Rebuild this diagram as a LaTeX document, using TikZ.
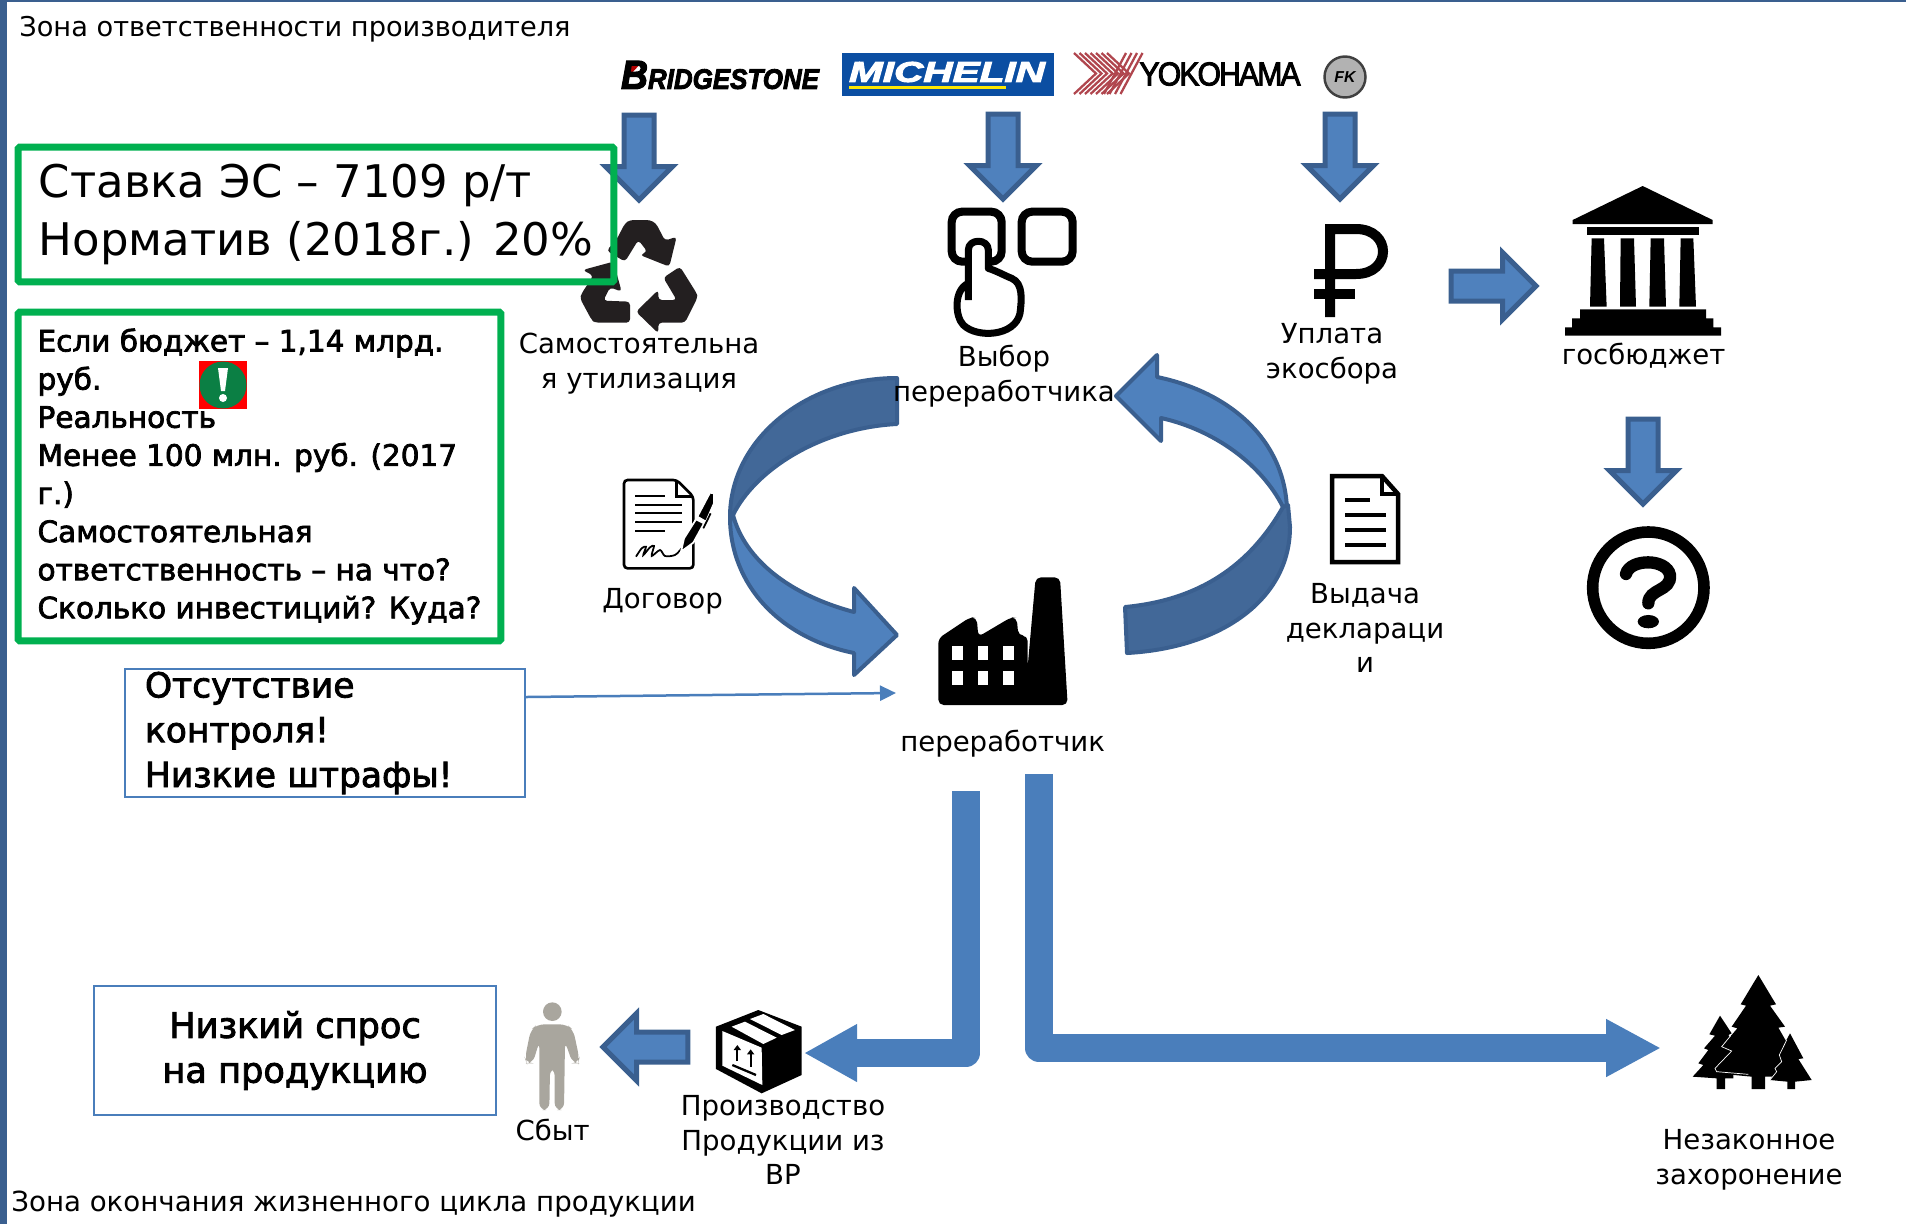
\documentclass[tikz,border=0pt]{standalone}
\usepackage{fontspec}
\usepackage{graphicx}
\setmainfont{DejaVu Sans}
\newfontfamily\logofont{Liberation Sans}
\newfontfamily\logoheavy[FakeBold=3]{Liberation Sans}
\newfontfamily\heavyfont[FakeBold=2.5]{DejaVu Sans}
\usetikzlibrary{arrows.meta,shapes.arrows,calc}

\definecolor{arrowblue}{HTML}{4F81BD}
\definecolor{arrowedge}{HTML}{3A5F8F}
\definecolor{benddark}{HTML}{426898}
\definecolor{flowblue}{HTML}{4A7EBB}
\definecolor{greenline}{HTML}{00B050}
\definecolor{recycleblack}{HTML}{231F20}
\definecolor{personiconcol}{HTML}{A9A69E}
\definecolor{michelinblue}{HTML}{0B4EA2}
\definecolor{yokored}{HTML}{B0464E}
\definecolor{warngreen}{HTML}{0B7F44}

\tikzset{
    caption/.style={align=center, inner sep=0pt, font=\fontsize{15.7}{19.84}\selectfont},
    blockarrow/.style={single arrow, draw=arrowedge, fill=arrowblue, line width=0.1cm, line join=miter,
        minimum height=1.7cm, single arrow head extend=0.37cm, inner sep=0.25cm, outer sep=0pt, anchor=tip},
    greenbox/.style={draw=greenline, line width=0.14cm, rounded corners=1pt, inner sep=0pt, align=left},
    thinbox/.style={draw=flowblue, line width=0.04cm, inner sep=0pt},
    flowline/.style={draw=flowblue, line width=0.56cm, line join=round},
    bendlight/.style={draw=arrowedge, fill=arrowblue, line width=0.08cm, line join=round},
    benddarker/.style={draw=arrowedge, fill=benddark, line width=0.08cm, line join=round},
    zoomed/.style={shift={#1}, x=0.006667cm, y=-0.006667cm},
}

\begin{document}
\begin{tikzpicture}[x=0.02cm, y=-0.02cm]
    \useasboundingbox (0,0) rectangle (1906,1224);
    \fill [arrowedge] (0,0) rectangle (1906,2);
    \fill [arrowedge] (0,0) rectangle (7,1224);

    % zone titles
    \node [anchor=west, inner sep=0pt, font=\fontsize{15.5}{19}\selectfont] (zonetop) at (19,29) { Зона ответственности производителя };
    \node [anchor=west, inner sep=0pt, font=\fontsize{15.74}{19}\selectfont] (zonebottom) at (11,1204) { Зона окончания жизненного цикла продукции };

    % logos
    \fill [red!70!black] (627,61) -- (643,61) -- (630,75) -- cycle;
    \node [inner sep=0pt] (bridgestone) at (720,75) { \resizebox{3.96cm}{0.56cm}{\logoheavy\bfseries\itshape {\Large B}RIDGESTONE} };
    \fill [michelinblue] (842,53) rectangle (1054,96);
    \node [inner sep=0pt, text=white] (michelin) at (947,72) { \resizebox{3.92cm}{0.4cm}{\logoheavy\bfseries\itshape MICHELIN} };
    \fill [yellow!90!orange] (849,86) rectangle (1006,89);
    \foreach \i in {0,...,6} {
        \draw [yokored, line width=1.3pt] ({1074+\i*5.5},53) -- ({1096+\i*5.5},73.5) -- ({1074+\i*5.5},94);
    }
    \foreach \i in {0,...,3} {
        \draw [yokored, line width=1.3pt] ({1126+\i*5.5},53) -- ({1104+\i*5.5},94);
    }
    \node [inner sep=0pt] (yokohama) at (1220,74) { \resizebox{3.22cm}{0.46cm}{\logoheavy\addfontfeature{LetterSpace=-6}YOKOHAMA} };
    \node [circle, draw=black!75, line width=1.4pt, fill=black!30, minimum size=0.82cm, inner sep=0pt, font=\logofont\bfseries\itshape\small] (fk) at (1345,77) { FK };

    % arrows from the producers
    \node [blockarrow, shape border rotate=270] (downa) at (639,200) {};
    \node [blockarrow, shape border rotate=270] (downb) at (1003,199) {};
    \node [blockarrow, shape border rotate=270] (downc) at (1340,199) {};
    \node [blockarrow] (togov) at (1536,286) {};
    \node [blockarrow, shape border rotate=270] (fromgov) at (1643,504) {};
    \node [blockarrow, shape border rotate=180] (tosale) at (603,1047) {};

    % recycling sign
    \begin{scope}[zoomed={(570,210)}]
        \fill [recycleblack, rounded corners=2pt] (110,122) -- (140,88) -- (165,40) -- (180,30) -- (240,30) -- (258,40) -- (285,92) -- (320,80) -- (298,170) -- (210,135) -- (232,125) -- (205,90) -- (165,155) -- cycle;
        \fill [recycleblack, rounded corners=2pt] (38,180) -- (130,155) -- (155,245) -- (120,232) -- (100,272) -- (180,275) -- (180,338) -- (75,338) -- (65,330) -- (30,265) -- (35,250) -- (70,197) -- cycle;
        \fill [recycleblack, rounded corners=2pt] (330,170) -- (280,203) -- (320,270) -- (265,270) -- (265,240) -- (198,305) -- (265,370) -- (265,338) -- (345,338) -- (383,262) -- (380,250) -- cycle;
    \end{scope}

    % choosing hand
    \begin{scope}[zoomed={(940,200)}]
        \draw [line width=4.6pt, rounded corners=6pt] (35,35) rectangle (185,185);
        \draw [line width=4.6pt, rounded corners=6pt] (245,35) rectangle (398,185);
        \draw [line width=4pt, fill=white, line join=round] (85,300) -- (85,150) .. controls (85,115) and (145,115) .. (145,150) -- (145,205) .. controls (175,215) and (190,225) .. (215,235) .. controls (250,250) and (245,300) .. (240,340) .. controls (225,410) and (110,415) .. (70,375) .. controls (45,350) and (40,270) .. (85,250);
    \end{scope}

    % ruble sign
    \draw [line width=0.2cm] (1330,317) -- (1330,229) -- (1356,229) .. controls (1392,229) and (1392,274) .. (1356,274) -- (1314,274);
    \draw [line width=0.2cm] (1314,294) -- (1355,294);

    % building
    \begin{scope}[zoomed={(1400,170)}]
        \fill (518,150) -- (728,48) -- (938,150) -- (938,162) -- (518,162) -- cycle;
        \fill (560,170) rectangle (898,196);
        \fill (575,205) -- (612,205) -- (620,410) -- (570,410) -- cycle;
        \fill (662,205) -- (702,205) -- (708,410) -- (660,410) -- cycle;
        \fill (752,205) -- (792,205) -- (798,410) -- (748,410) -- cycle;
        \fill (842,205) -- (880,205) -- (888,410) -- (838,410) -- cycle;
        \fill (540,418) -- (918,418) -- (918,445) -- (940,445) -- (940,472) -- (963,472) -- (963,497) -- (495,497) -- (495,472) -- (516,472) -- (516,445) -- (540,445) -- cycle;
        \draw [line width=6.6pt] (745,1253) circle (167);
        \draw [line width=7pt, line cap=round] (678,1212) .. controls (690,1165) and (800,1165) .. (810,1215) .. controls (815,1265) and (745,1255) .. (745,1300);
        \fill (745,1355) ellipse (32 and 20);
    \end{scope}

    % curved arrows
    \draw [bendlight] (730,517) .. controls (730,585) and (780,638) .. (854,653) -- (854,675) -- (897,635) -- (854,588) -- (854,612) .. controls (790,595) and (745,560) .. (733,515) -- cycle;
    \draw [benddarker] (897,378) .. controls (805,378) and (730,440) .. (730,517) -- (733,515) .. controls (755,470) and (820,428) .. (897,424) -- cycle;
    \draw [bendlight] (1157,377) .. controls (1230,392) and (1285,440) .. (1287,510) -- (1283,507) .. controls (1262,465) and (1215,430) .. (1161,418) -- (1161,441) -- (1116,396) -- (1157,355) -- cycle;
    \draw [benddarker] (1283,507) .. controls (1250,565) and (1200,600) .. (1125,607) -- (1127,653) .. controls (1220,648) and (1290,600) .. (1290,527) -- (1288,505) -- cycle;

    % contract
    \begin{scope}[zoomed={(610,470)}]
        \draw [line width=1.5pt, rounded corners=2pt] (42,30) -- (200,30) -- (250,80) -- (250,295) -- (42,295) -- cycle;
        \draw [line width=1.5pt] (200,30) -- (200,80) -- (250,80);
        \foreach \ly/\lx in {78/165, 104/215, 130/215, 156/215, 182/165} {
            \draw [line width=1.3pt] (75,\ly) -- (\lx,\ly);
        }
        \draw [line width=1pt] plot [smooth] coordinates {(78,260) (95,235) (108,230) (100,255) (120,232) (132,228) (125,258) (150,240) (165,258) (195,255) (215,235)};
        \fill [black, draw=white, line width=1pt] (213,245) -- (222,205) -- (258,148) -- (282,160) -- (250,218) -- cycle;
        \fill [black, draw=white, line width=1pt] (262,140) -- (288,155) -- (312,100) -- (312,70) -- (300,68) -- cycle;
        \draw [line width=1pt] (280,175) -- (302,130);
    \end{scope}

    % factory
    \begin{scope}[zoomed={(925,570)}]
        \fill [rounded corners=3pt] (40,205) -- (135,142) -- (155,142) -- (160,200) -- (258,142) -- (275,142) -- (280,197) -- (308,197) -- (308,290) -- (332,22) -- (405,22) -- (428,405) -- (40,405) -- cycle;
        \foreach \wx in {82,158,234} {
            \foreach \wy in {228,302} {
                \fill [white] (\wx,\wy) rectangle ++(32,42);
            }
        }
    \end{scope}

    % declaration sheet
    \draw [line width=0.09cm, line join=miter] (1332,476) -- (1382,476) -- (1398,494) -- (1398,562) -- (1332,562) -- cycle;
    \draw [line width=0.07cm] (1382,476) -- (1382,494) -- (1398,494);
    \foreach \ly/\lx in {500/1370, 515/1386, 530/1386, 545/1386} {
        \draw [line width=0.08cm] (1345,\ly) -- (\lx,\ly);
    }

    % box and person
    \begin{scope}[zoomed={(510,995)}]
        \fill [line join=round] (618,95) -- (745,45) -- (875,95) -- (875,240) -- (755,295) -- (618,222) -- cycle;
        \fill [white] (637,108) -- (755,158) -- (757,270) -- (637,212) -- cycle;
        \fill [white] (665,95) -- (705,80) -- (800,128) -- (760,147) -- cycle;
        \fill [white] (720,72) -- (760,57) -- (855,105) -- (815,120) -- cycle;
        \draw [line width=1.3pt, -{Triangle[length=0.1cm, width=0.14cm]}] (682,198) -- (682,150);
        \draw [line width=1.3pt, -{Triangle[length=0.1cm, width=0.14cm]}] (722,215) -- (722,163);
        \draw [line width=1.3pt] (667,210) -- (738,240);
        \fill [personiconcol] (127,50) circle (28);
        \fill [personiconcol, rounded corners=4pt] (82,88) -- (62,105) -- (45,190) -- (50,205) -- (68,205) -- (88,140) -- (88,345) -- (118,345) -- (120,220) -- (134,220) -- (134,345) -- (162,345) -- (165,140) -- (188,205) -- (205,205) -- (208,190) -- (190,105) -- (170,88) -- cycle;
    \end{scope}

    % forest
    \begin{scope}[zoomed={(1680,965)}]
        \fill (120,152) -- (155,205) -- (145,210) -- (170,250) -- (160,300) -- (160,340) -- (135,340) -- (135,372) -- (110,372) -- (110,340) -- (38,335) -- (70,300) -- (55,295) -- (85,255) -- (72,250) -- (105,212) -- (88,208) -- cycle;
        \fill (235,30) -- (288,118) -- (270,122) -- (315,185) -- (295,188) -- (345,275) -- (345,335) -- (255,335) -- (255,372) -- (215,372) -- (215,335) -- (110,325) -- (150,258) -- (125,245) -- (172,190) -- (155,185) -- (198,122) -- (182,118) -- cycle;
        \fill (330,205) -- (370,280) -- (355,282) -- (395,345) -- (345,350) -- (345,372) -- (322,372) -- (322,350) -- (270,345) -- (305,295) -- (290,280) -- cycle;
        \draw [white, line width=0.4pt] (152,212) -- (125,245) -- (155,258) -- (105,310) -- (110,320) -- (205,328);
        \draw [white, line width=0.4pt] (320,225) -- (298,270) -- (305,290) -- (285,310) -- (290,320) -- (270,345);
    \end{scope}

    % captions
    \node [caption] (selfutil) at (639,364) { Самостоятельна\\я утилизация };
    \node [caption] (choice) at (1004,376.5) { Выбор\\переработчика };
    \node [caption] (fee) at (1332,353.5) { Уплата\\экосбора };
    \node [caption] (budget) at (1648,356) { госбюджет };
    \node [caption] (contract) at (667,601.5) { Договор };
    \node [caption] (declaration) at (1365,628) { Выдача\\деклараци\\и };
    \node [caption] (recycler) at (1007,743.5) { переработчик };
    \node [caption] (sale) at (557,1130) { Сбыт };
    \node [caption] (production) at (783,1140) { Производство\\Продукции из\\ВР };
    \node [caption] (burial) at (1749,1160) { Незаконное\\захоронение };

    % text boxes
    \node [greenbox, minimum width=11.92cm, minimum height=2.7cm, font=\fontsize{25.6}{32.9}\selectfont] (rate) at (316,214.5) { Ставка ЭС – 7109 р/т\\Норматив (2018г.) 20\% };
    \node [greenbox, minimum width=9.66cm, minimum height=6.58cm, font=\heavyfont\fontsize{16.8}{21.7}\selectfont] (money) at (259.5,476.5) { Если бюджет – 1,14 млрд.\\руб.\\Реальность\\Менее 100 млн. руб. (2017\\г.)\\Самостоятельная\\ответственность – на что?\\Сколько инвестиций? Куда? };
    \node [thinbox, minimum width=8cm, minimum height=2.56cm, text width=7.2cm, align=left, font=\heavyfont\fontsize{19.6}{25.5}\selectfont] (control) at (325,733) { Отсутствие\\контроля!\\Низкие штрафы! };
    \node [thinbox, minimum width=8.04cm, minimum height=2.58cm, align=center, font=\heavyfont\fontsize{20}{25.5}\selectfont] (demand) at (295,1050.5) { Низкий спрос\\на продукцию };

    % warning mark
    \fill [red] (199,361) rectangle (247,409);
    \fill [warngreen] (223,385) circle (23.5);
    \fill [white] (218,368) -- (228,368) -- (225,391) -- (221,391) -- cycle;
    \fill [white] (223,398) circle (4);

    % connectors
    \coordinate (factorytip) at (896,693);
    \coordinate (factoryleft) at (966,791);
    \coordinate (factoryright) at (1039,774);
    \coordinate (boxside) at (804,1053);
    \coordinate (forestside) at (1661,1048);
    \draw [draw=flowblue, line width=0.05cm, -{Triangle[length=0.32cm, width=0.3cm]}] ([yshift=0.72cm]control.east) -- (factorytip);
    \draw [flowline, -{Triangle[length=1.06cm, width=1.08cm]}] (factoryleft) |- (boxside);
    \draw [flowline, -{Triangle[length=1.1cm, width=1.08cm]}] (factoryright) |- (forestside);

\end{tikzpicture}
\end{document}
